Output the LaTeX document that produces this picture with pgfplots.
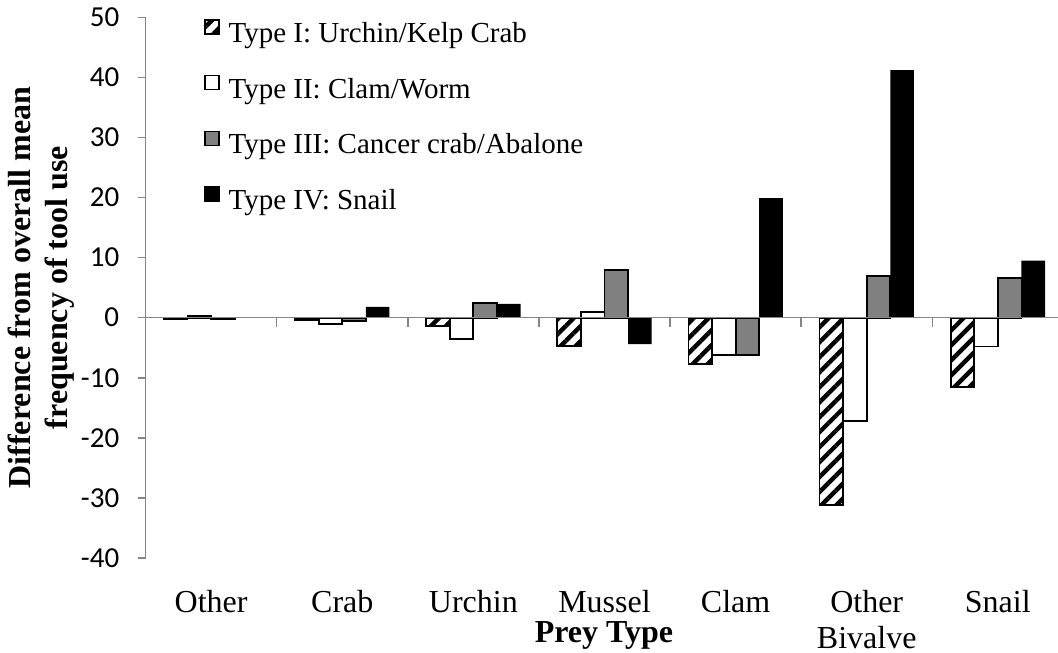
\documentclass[border=0pt]{standalone}
\usepackage{fontspec}
\setmainfont{Liberation Serif}
\newfontfamily\tickfont{Carlito}
\usepackage{pgfplots}
\usepackage{pgfplotstable}
\pgfplotsset{compat=1.18}
\usetikzlibrary{patterns.meta}
\definecolor{axgray}{HTML}{868686}
\definecolor{barIII}{HTML}{808080}

\pgfplotstableread{
x I II III IV
0 -0.27 0.33 -0.2 0
1 -0.43 -1.0 -0.55 1.8
2 -1.33 -3.5 2.5 2.3
3 -4.7 1.0 8.0 -4.4
4 -7.7 -6.2 -6.2 19.9
5 -31.2 -17.2 7.0 41.2
6 -11.5 -4.8 6.6 9.5
}\data

\begin{document}
\begin{tikzpicture}
\begin{axis}[
  name=ax,
  scale only axis,
  width=456.2pt, height=270.35pt,
  xmin=-0.5, xmax=6.459,
  ymin=-40, ymax=50,
  axis y line*=left,
  axis x line*=bottom,
  x axis line style={draw=none},
  y axis line style={axgray, line width=0.75pt},
  ytick={-40,-30,...,50},
  yticklabels={-40,-30,-20,-10,0,10,20,30,40,50},
  ytick style={axgray, line width=0.75pt},
  tick align=outside,
  major tick length=4pt,
  yticklabel style={font=\tickfont\fontsize{14.5}{16}\selectfont, inner sep=0pt, anchor=east, xshift=-9pt},
  xtick={0,...,6},
  xticklabels={Other,Crab,Urchin,Mussel,Clam,{Other\\Bivalve},Snail},
  xtick style={draw=none},
  xticklabel style={font=\fontsize{16}{18}\selectfont, align=center, anchor=north, inner sep=0pt, yshift=-12pt},
  xlabel={Prey Type},
  xlabel style={at={(axis description cs:0.5024,0)}, anchor=base, yshift=-42pt, font=\bfseries\fontsize{16}{18}\selectfont},
  ylabel={Difference from overall mean\\frequency of tool use},
  ylabel style={at={(axis description cs:-0.0774,0.5)}, rotate=0, anchor=south, inner sep=0pt, align=center, font=\bfseries\fontsize{16}{18.5}\selectfont},
  ybar=0pt,
  bar width=11.8pt,
  legend image code/.code={\draw[#1, line width=0.6pt] (0pt,0pt) rectangle (7pt,7pt);},
  legend style={at={(axis description cs:0.0574,1.0042)}, anchor=north west, draw=none, fill=none,
    font=\fontsize{14.5}{16}\selectfont, row sep=14.75pt, column sep=4.5pt,
    nodes={inner sep=0pt}},
  legend cell align=left,
]
\addplot[draw=black, line width=0.9pt, pattern={Lines[angle=45,distance=5.3pt,line width=2.2pt]}] table[x=x,y=I]{\data};
\addplot[draw=black, line width=0.9pt, fill=white] table[x=x,y=II]{\data};
\addplot[draw=black, line width=0.9pt, fill=barIII] table[x=x,y=III]{\data};
\addplot[draw=none, fill=black] table[x=x,y=IV]{\data};
\legend{Type I: Urchin/Kelp Crab, Type II: Clam/Worm, Type III: Cancer crab/Abalone, Type IV: Snail}
\draw[axgray, line width=0.75pt] (axis cs:-0.5,0) -- (axis cs:6.459,0);
\pgfplotsinvokeforeach{0.5,1.5,2.5,3.5,4.5,5.5}{
  \draw[axgray, line width=0.75pt] (axis cs:#1,0) -- ++(0pt,-4.5pt);
}
\end{axis}
\pgfresetboundingbox
\path ([xshift=-72.8pt, yshift=-47pt]ax.south west) rectangle ([yshift=8.65pt]ax.north east);
\end{tikzpicture}
\end{document}
